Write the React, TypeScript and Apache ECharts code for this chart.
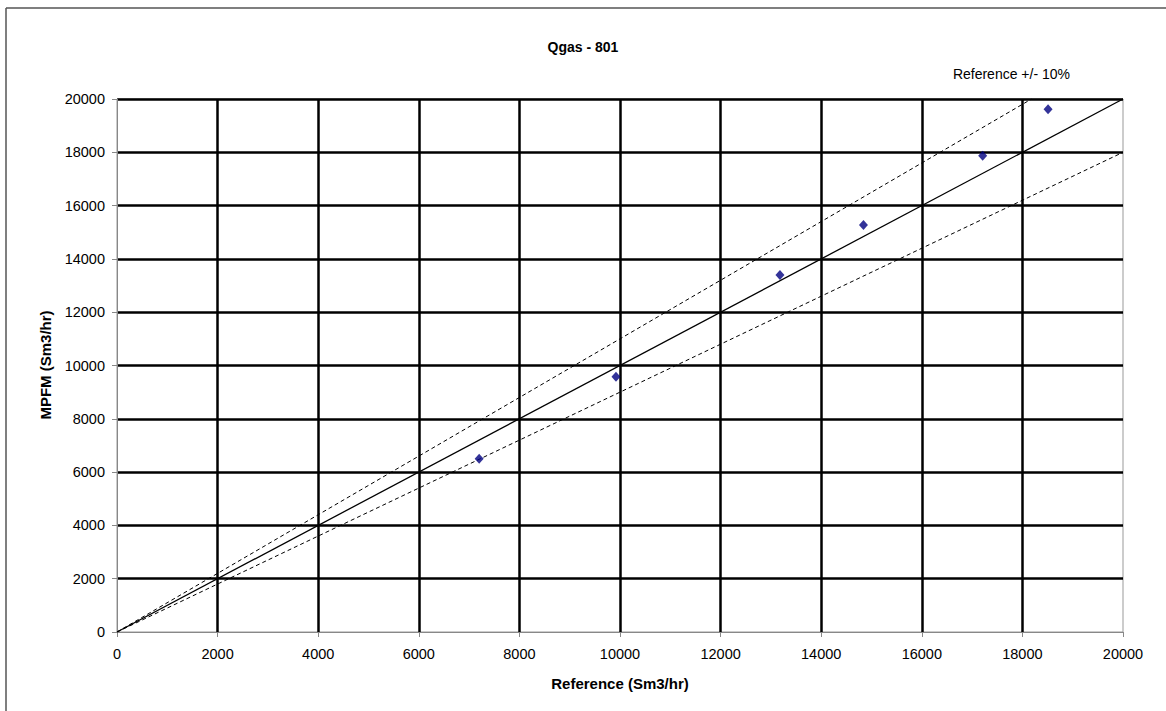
import React, { useEffect, useRef } from "react";
import * as echarts from "echarts";

const titleText = "Qgas - 801";
const noteText = "Reference +/- 10%";
const xName = "Reference (Sm3/hr)";
const yName = "MPFM (Sm3/hr)";

const refValues = [7200, 9920, 13180, 14840, 17210, 18510];
const mpfmValues = [6500, 9580, 13400, 15270, 17870, 19620];

const identityLine = [[0, 0], [20000, 20000]];
const upperLine = [[0, 0], [18182, 20000]];
const lowerLine = [[0, 0], [20000, 18000]];

const axisMin = 0;
const axisMax = 20000;
const axisStep = 2000;

export default function App() {
  const ref = useRef<HTMLDivElement>(null);
  useEffect(() => {
    if (!ref.current) return;
    const chart = echarts.init(ref.current, null, { renderer: "svg" });
    const font = "'Liberation Sans', Arial, sans-serif";
    const points = refValues.map((x, i) => [x, mpfmValues[i]]);
    chart.setOption({
      animation: false,
      backgroundColor: "#ffffff",
      textStyle: { fontFamily: font },
      grid: {
        left: 117, top: 99, width: 1006, height: 533,
        show: true, borderColor: "#999999", borderWidth: 1, backgroundColor: "transparent",
      },
      graphic: [
        { type: "line", shape: { x1: 6, y1: 8, x2: 1166, y2: 8 }, style: { stroke: "#555555", lineWidth: 1.5 } },
        { type: "line", shape: { x1: 6, y1: 8, x2: 6, y2: 711 }, style: { stroke: "#555555", lineWidth: 1.5 } },
        {
          type: "text", x: 583, y: 47,
          style: { text: titleText, font: `bold 14px ${font}`, fill: "#000", textAlign: "center", textVerticalAlign: "middle" },
        },
        {
          type: "text", x: 1070, y: 74,
          style: { text: noteText, font: `14px ${font}`, fill: "#000", textAlign: "right", textVerticalAlign: "middle" },
        },
        {
          type: "text", x: 620, y: 683,
          style: { text: xName, font: `bold 15px ${font}`, fill: "#000", textAlign: "center", textVerticalAlign: "middle" },
        },
        {
          type: "text", x: 45, y: 365, rotation: Math.PI / 2,
          style: { text: yName, font: `bold 15px ${font}`, fill: "#000", textAlign: "center", textVerticalAlign: "middle" },
        },
      ],
      xAxis: {
        type: "value", min: axisMin, max: axisMax, interval: axisStep,
        axisLine: { show: true, onZero: false, lineStyle: { color: "#888888", width: 1 } },
        axisTick: { show: true, length: 5, lineStyle: { color: "#888888" } },
        axisLabel: { color: "#000", fontSize: 14.5, margin: 14, fontFamily: font, formatter: (v: number) => String(v) },
        splitLine: { show: true, showMinLine: false, showMaxLine: false, lineStyle: { color: "#000", width: 2.5 } },
      },
      yAxis: {
        type: "value", min: axisMin, max: axisMax, interval: axisStep,
        axisLine: { show: true, onZero: false, lineStyle: { color: "#888888", width: 1 } },
        axisTick: { show: true, length: 5, lineStyle: { color: "#888888" } },
        axisLabel: { color: "#000", fontSize: 14.5, margin: 12, fontFamily: font, formatter: (v: number) => String(v) },
        splitLine: { show: true, showMinLine: false, showMaxLine: true, lineStyle: { color: "#000", width: 2.5 } },
      },
      series: [
        {
          type: "line", data: identityLine, symbol: "none",
          lineStyle: { color: "#000", width: 1.3 }, z: 3,
        },
        {
          type: "line", data: upperLine, symbol: "none",
          lineStyle: { color: "#000", width: 1, type: [4, 3] }, z: 3,
        },
        {
          type: "line", data: lowerLine, symbol: "none",
          lineStyle: { color: "#000", width: 1, type: [4, 3] }, z: 3,
        },
        {
          type: "scatter", data: points, symbol: "diamond", symbolSize: [9, 10],
          itemStyle: { color: "#000080" }, z: 4,
        },
      ],
    });
    return () => chart.dispose();
  }, []);
  return <div ref={ref} style={{ position: "fixed", left: 0, top: 0, width: 1166, height: 711 }} />;
}
